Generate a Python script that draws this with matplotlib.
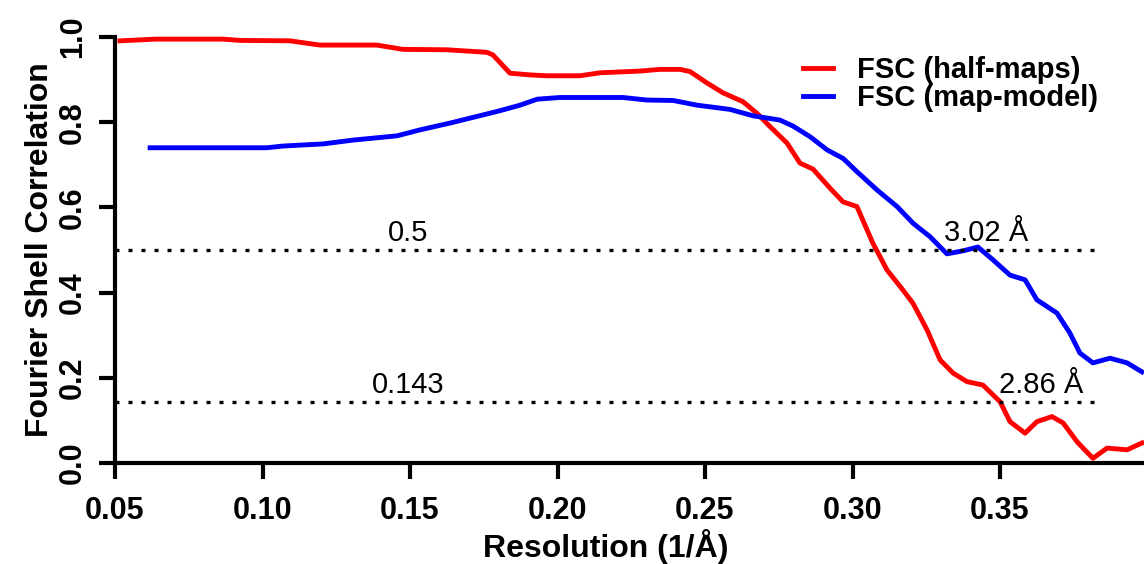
import matplotlib
matplotlib.use("Agg")
import matplotlib.pyplot as plt
import numpy as np

plt.rcParams['font.family'] = ['Liberation Sans', 'DejaVu Sans']
plt.rcParams['font.weight'] = 'bold'

# FSC between half-maps
half_x = [0.0517, 0.0636, 0.0866, 0.0924, 0.1093, 0.1195, 0.1388, 0.1476, 0.1625,
          0.1761, 0.1781, 0.1839, 0.1907, 0.1964, 0.2076, 0.2144, 0.2280, 0.2347,
          0.2415, 0.2449, 0.2507, 0.2561, 0.2629, 0.2676, 0.2720, 0.2778, 0.2822,
          0.2866, 0.2924, 0.2968, 0.3015, 0.3069, 0.3117, 0.3171, 0.3205, 0.3253,
          0.3297, 0.3341, 0.3388, 0.3442, 0.3500, 0.3534, 0.3585, 0.3625, 0.3676,
          0.3714, 0.3761, 0.3815, 0.3863, 0.3931, 0.3981]
half_y = [0.991, 0.995, 0.995, 0.992, 0.991, 0.981, 0.981, 0.971, 0.970,
          0.964, 0.958, 0.915, 0.911, 0.909, 0.909, 0.916, 0.920, 0.924,
          0.924, 0.919, 0.892, 0.869, 0.848, 0.821, 0.790, 0.751, 0.704,
          0.690, 0.645, 0.613, 0.602, 0.516, 0.453, 0.406, 0.375, 0.312,
          0.242, 0.211, 0.191, 0.183, 0.144, 0.097, 0.070, 0.097, 0.109,
          0.094, 0.050, 0.011, 0.035, 0.031, 0.047]

# FSC between map and model
model_x = [0.0619, 0.1015, 0.1069, 0.1205, 0.1307, 0.1456, 0.1534, 0.1636, 0.1747,
           0.1805, 0.1873, 0.1931, 0.2008, 0.2120, 0.2222, 0.2303, 0.2392, 0.2473,
           0.2585, 0.2663, 0.2754, 0.2798, 0.2856, 0.2914, 0.2968, 0.3015, 0.3083,
           0.3151, 0.3205, 0.3263, 0.3320, 0.3375, 0.3425, 0.3476, 0.3534, 0.3585,
           0.3625, 0.3693, 0.3737, 0.3771, 0.3815, 0.3873, 0.3931, 0.3981]
model_y = [0.740, 0.740, 0.744, 0.749, 0.758, 0.768, 0.782, 0.798, 0.817,
           0.827, 0.840, 0.854, 0.858, 0.858, 0.858, 0.852, 0.851, 0.840,
           0.830, 0.815, 0.805, 0.791, 0.766, 0.735, 0.715, 0.684, 0.641,
           0.602, 0.563, 0.531, 0.491, 0.498, 0.507, 0.477, 0.441, 0.430,
           0.383, 0.352, 0.305, 0.258, 0.235, 0.246, 0.235, 0.214]

thresholds = [0.5, 0.143]
threshold_labels = ['0.5', '0.143']
resolutions = [3.02, 2.86]   # Angstrom, where each curve crosses its threshold
series_labels = ['FSC (half-maps)', 'FSC (map-model)']

xticks = [0.05, 0.10, 0.15, 0.20, 0.25, 0.30, 0.35]
yticks = [0.0, 0.2, 0.4, 0.6, 0.8, 1.0]

fig = plt.figure(figsize=(11.44, 5.64), dpi=100)
ax = fig.add_axes([115 / 1144, 101 / 564, 1029 / 1144, 426 / 564])

ax.plot(half_x, half_y, color='#ff0000', lw=3.5, label=series_labels[0], clip_on=False)
ax.plot(model_x, model_y, color='#0000ff', lw=3.5, label=series_labels[1], clip_on=False)

# threshold lines with their labels
for t, lab in zip(thresholds, threshold_labels):
    ax.plot([0.05, 0.3846], [t, t], color='black', lw=2.4,
            linestyle=(0, (1.2, 2.7)), dash_capstyle='butt')
    ax.text(0.1493, t + 0.008, lab, ha='center', va='bottom',
            fontsize=21, fontweight='normal')

# resolution labels, map-model at 0.5 and half-maps at 0.143
ax.text(1 / resolutions[0], thresholds[0] + 0.008, f'{resolutions[0]:.2f} Å',
        ha='left', va='bottom', fontsize=21, fontweight='normal')
ax.text(1 / resolutions[1], thresholds[1] + 0.008, f'{resolutions[1]:.2f} Å',
        ha='left', va='bottom', fontsize=21, fontweight='normal')

ax.set_xlim(0.05, 0.05 + 1029 / 2950)
ax.set_ylim(0, 1)
ax.set_xticks(xticks)
ax.set_xticklabels([f'{v:.2f}' for v in xticks])
ax.set_yticks(yticks)
ax.set_yticklabels([f'{v:.1f}' for v in yticks])

for s in ['top', 'right']:
    ax.spines[s].set_visible(False)
for s in ['left', 'bottom']:
    ax.spines[s].set_linewidth(3)

ax.tick_params(axis='both', direction='out', length=11.5, width=3,
               labelsize=22)
ax.tick_params(axis='x', pad=12)
ax.tick_params(axis='y', pad=8)
for lab in ax.get_yticklabels():
    lab.set_rotation(90)
    lab.set_va('center')
    lab.set_ha('right')

ax.set_xlabel('Resolution (1/Å)', fontsize=23, fontweight='bold', va='baseline')
ax.xaxis.set_label_coords(0.477, (463 - 557) / 426)
ax.set_ylabel('Fourier Shell Correlation', fontsize=23, fontweight='bold', va='baseline')
ax.yaxis.set_label_coords((48 - 115) / 1029, 0.5)

leg = ax.legend(loc='upper left', bbox_to_anchor=((803 - 115) / 1029, (463 - 56) / 426),
                frameon=False, fontsize=21, handlelength=1.03, handletextpad=0.82,
                labelspacing=0.0, borderpad=0, borderaxespad=0)
for line in leg.get_lines():
    line.set_linewidth(3.5)

fig.savefig('out.png', dpi=100)
